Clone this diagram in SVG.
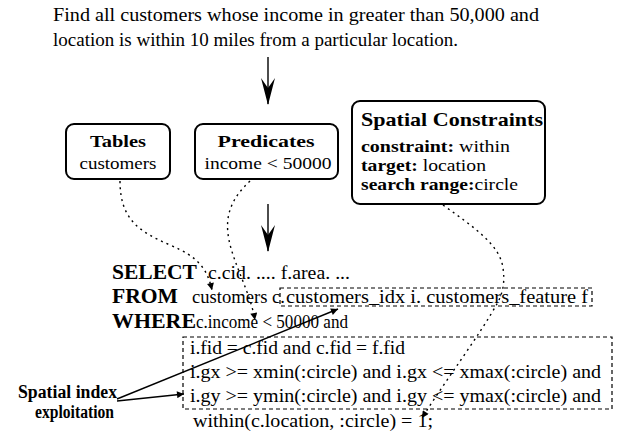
<svg xmlns="http://www.w3.org/2000/svg" width="619" height="440" viewBox="0 0 619 440">
<style>
text{font-family:"Liberation Serif","Times New Roman",serif;fill:#000}
.t{font-size:18px}
.s{font-size:16px}
.bx{font-size:17px}
.b{font-weight:bold}
.kw{font-size:20px;font-weight:bold}
.box{fill:#fff;stroke:#000;stroke-width:2}
.dbox{fill:none;stroke:#000;stroke-width:1.2;stroke-dasharray:4,3}
.dot{fill:none;stroke:#000;stroke-width:1.4;stroke-dasharray:2,4}
.sol{fill:none;stroke:#000;stroke-width:1.4}
</style>
<defs>
<marker id="big" viewBox="0 0 27 14" refX="26" refY="7" markerWidth="27" markerHeight="14" markerUnits="userSpaceOnUse" orient="auto">
<path d="M0,0 L27,7 L0,14 L10,7 Z" fill="#000"/>
</marker>
<marker id="sm" viewBox="0 0 10 10" refX="10" refY="5" markerWidth="9" markerHeight="7" markerUnits="userSpaceOnUse" orient="auto">
<path d="M0,0 L10,5 L0,10 Z" fill="#000"/>
</marker>
</defs>

<g id="question">
<text class="t" x="53" y="21" textLength="486" lengthAdjust="spacingAndGlyphs">Find all customers whose income in greater than 50,000 and</text>
<text class="t" x="53" y="46" textLength="405" lengthAdjust="spacingAndGlyphs">location is within 10 miles from a particular location.</text>
</g>

<g id="tables">
<rect class="box" x="66" y="124" width="104" height="55" rx="8"/>
<text class="bx b" x="118" y="147" text-anchor="middle" textLength="56" lengthAdjust="spacingAndGlyphs">Tables</text>
<text class="bx" x="118" y="169" text-anchor="middle" textLength="77" lengthAdjust="spacingAndGlyphs">customers</text>
</g>

<g id="predicates">
<rect class="box" x="195" y="124" width="143" height="55" rx="8"/>
<text class="bx b" x="266" y="147" text-anchor="middle" textLength="97" lengthAdjust="spacingAndGlyphs">Predicates</text>
<text class="bx" x="268" y="169" text-anchor="middle" textLength="127" lengthAdjust="spacingAndGlyphs">income &lt; 50000</text>
</g>

<g id="spatial">
<rect class="box" x="352" y="101" width="193" height="103" rx="8"/>
<text class="b" x="361" y="126" textLength="182" lengthAdjust="spacingAndGlyphs" style="font-size:19px">Spatial Constraints</text>
<text class="s" x="361" y="152" textLength="149" lengthAdjust="spacingAndGlyphs"><tspan class="b">constraint:</tspan> within</text>
<text class="s" x="361" y="171" textLength="125" lengthAdjust="spacingAndGlyphs"><tspan class="b">target:</tspan> location</text>
<text class="s" x="361" y="190" textLength="157" lengthAdjust="spacingAndGlyphs"><tspan class="b">search range:</tspan>circle</text>
</g>

<g id="query">
<text class="kw" x="112" y="279" textLength="85" lengthAdjust="spacingAndGlyphs">SELECT</text>
<text class="t" x="208" y="279" textLength="142" lengthAdjust="spacingAndGlyphs">c.cid. .... f.area. ...</text>
<text class="kw" x="112" y="303" textLength="66" lengthAdjust="spacingAndGlyphs">FROM</text>
<text class="t" x="192" y="303" textLength="93" lengthAdjust="spacingAndGlyphs">customers c.</text>
<rect class="dbox" x="280" y="288" width="312" height="18"/>
<text class="t" x="286" y="303" textLength="302" lengthAdjust="spacingAndGlyphs">customers_idx i. customers_feature f</text>
<text class="kw" x="112" y="328" textLength="84" lengthAdjust="spacingAndGlyphs">WHERE</text>
<text class="t" x="196" y="328" textLength="152" lengthAdjust="spacingAndGlyphs">c.income &lt; 50000 and</text>
<rect class="dbox" x="183" y="337" width="429" height="72"/>
<text class="t" x="190" y="354" textLength="215" lengthAdjust="spacingAndGlyphs">i.fid = c.fid and c.fid = f.fid</text>
<text class="t" x="190" y="378" textLength="411" lengthAdjust="spacingAndGlyphs">i.gx &gt;= xmin(:circle) and i.gx &lt;= xmax(:circle) and</text>
<text class="t" x="190" y="402" textLength="411" lengthAdjust="spacingAndGlyphs">i.gy &gt;= ymin(:circle) and i.gy &lt;= ymax(:circle) and</text>
<text class="t" x="193" y="427" textLength="240" lengthAdjust="spacingAndGlyphs">within(c.location, :circle) = 1;</text>
</g>

<g id="note">
<text class="t b" x="18" y="398" textLength="99" lengthAdjust="spacingAndGlyphs">Spatial index</text>
<text class="t b" x="35" y="418" textLength="79" lengthAdjust="spacingAndGlyphs">exploitation</text>
</g>

<g id="connectors">
<line class="sol" x1="268" y1="57" x2="268" y2="104" marker-end="url(#big)"/>
<line class="sol" x1="268" y1="204" x2="268" y2="251" marker-end="url(#big)"/>
<path class="dot" d="M120,181 C120,220 140,232 170,245 C198,257 207,268 212,290" marker-end="url(#sm)"/>
<path class="dot" d="M250,181 C232,198 224,215 229,240 C234,265 250,292 255,320" marker-end="url(#sm)"/>
<path class="dot" d="M443,205 C475,228 500,245 503,268 C505,282 503,292 498,302 C480,335 447,378 422,418" marker-end="url(#sm)"/>
<line class="sol" x1="117" y1="399" x2="338" y2="309" marker-end="url(#sm)"/>
<line class="sol" x1="117" y1="401" x2="184" y2="394" marker-end="url(#sm)"/>
</g>
</svg>
